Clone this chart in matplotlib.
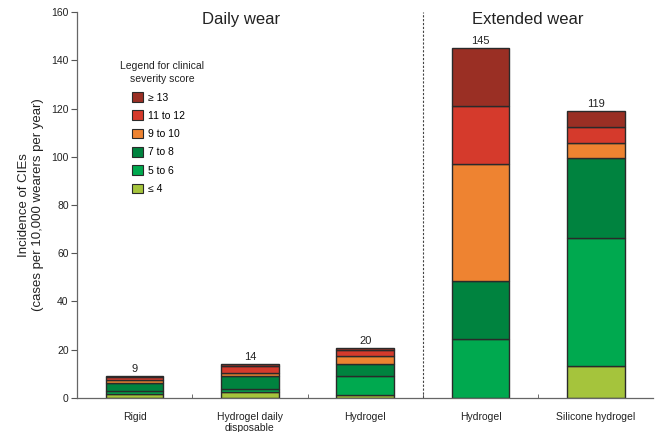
import matplotlib
matplotlib.use("Agg")
import matplotlib.pyplot as plt
import matplotlib.patches as patches
import numpy as np

plt.rcParams['font.family'] = ['Liberation Sans', 'DejaVu Sans']

# data
categories = ["Rigid", "Hydrogel daily\ndisposable", "Hydrogel", "Hydrogel", "Silicone hydrogel"]
totals = ["9", "14", "20", "145", "119"]
severity = ["\u2264 4", "5 to 6", "7 to 8", "9 to 10", "11 to 12", "\u2265 13"]
le4 = [1.5, 2.5, 1.2, 0.0, 13.4]
s5_6 = [1.5, 1.1, 8.0, 24.3, 52.9]
s7_8 = [3.3, 5.5, 4.9, 24.3, 33.0]
s9_10 = [1.3, 1.2, 3.3, 48.2, 6.5]
s11_12 = [1.0, 2.9, 2.6, 24.1, 6.6]
ge13 = [0.4, 0.7, 0.6, 24.1, 6.6]
colors = ["#a5c43c", "#00a94f", "#00833f", "#ee8331", "#d53a2c", "#9a2f24"]

fig = plt.figure(figsize=(6.58, 4.32), dpi=100)
ax = fig.add_axes([0.117, 0.079, 0.876, 0.893])

x = np.arange(len(categories))
layers = [le4, s5_6, s7_8, s9_10, s11_12, ge13]
bottom = np.zeros(len(categories))
handles = []
for vals, col, lab in zip(layers, colors, severity):
    ax.bar(x, vals, 0.5, bottom=bottom, color=col, edgecolor="#2a2a2a", linewidth=1.0)
    bottom += np.array(vals)
    handles.append(patches.Patch(facecolor=col, edgecolor="#2a2a2a", linewidth=0.8, label=lab))

for xi, top, txt in zip(x, bottom, totals):
    ax.text(xi, top + 0.8, txt, ha="center", va="bottom", fontsize=8, color="#222222")

ax.set_xlim(-0.5, 4.5)
ax.set_ylim(0, 160)
ax.set_yticks(np.arange(0, 161, 20))
ax.set_xticks(x)
ax.set_xticklabels(categories, fontsize=7.5, color="#222222")
ax.set_xticks(np.arange(0.5, 4.0, 1.0), minor=True)
ax.tick_params(axis="x", which="major", length=0, pad=10)
ax.tick_params(axis="x", which="minor", direction="in", length=3, color="#555555")
ax.tick_params(axis="y", labelsize=7.5, length=4, pad=2, color="#555555", labelcolor="#222222")
for s in ["top", "right"]:
    ax.spines[s].set_visible(False)
for s in ["left", "bottom"]:
    ax.spines[s].set_color("#666666")
    ax.spines[s].set_linewidth(0.9)

ax.axvline(2.5, color="#444444", linewidth=0.8, linestyle=(0, (2, 1.5)))

ax.text(0.92, 157, "Daily wear", ha="center", va="center", fontsize=12, color="#222222")
ax.text(3.41, 157, "Extended wear", ha="center", va="center", fontsize=12, color="#222222")

ax.set_ylabel("Incidence of CIEs\n(cases per 10,000 wearers per year)", fontsize=9.5,
              color="#222222", labelpad=5)

ax.text(0.24, 135, "Legend for clinical\nseverity score", ha="center", va="center",
        fontsize=7.5, color="#222222", linespacing=1.3)
ax.legend(handles=handles[::-1], loc="upper left", bbox_to_anchor=(-0.02, 126.8),
          bbox_transform=ax.transData, frameon=False, fontsize=7.5,
          handlelength=1.05, handleheight=1.05, handletextpad=0.5,
          labelspacing=0.76, borderpad=0, borderaxespad=0)

fig.savefig("out.png", dpi=100)
